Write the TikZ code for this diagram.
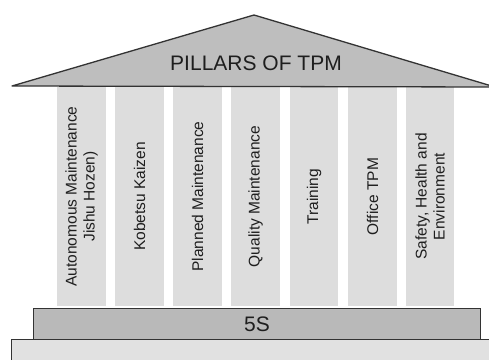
\documentclass[tikz,border=0pt]{standalone}
\usepackage{fontspec}
\setmainfont{Liberation Sans}
\definecolor{rooffill}{HTML}{BEBEBE}
\definecolor{fivesfill}{HTML}{B9B9B9}
\definecolor{basefill}{HTML}{E1E1E1}
\definecolor{pillarfill}{HTML}{DDDDDD}
\definecolor{edge}{HTML}{333333}
\definecolor{txt}{HTML}{1E1E1E}
\begin{document}
\begin{tikzpicture}[x=1pt,y=-1pt,
  pillar/.style={rectangle,fill=pillarfill,rotate=90,minimum width=219pt,minimum height=48.5pt,inner sep=0pt,
    align=center,text=txt,font=\fontsize{15.5}{18}\selectfont},
  band/.style={draw=edge,line width=1pt}]
\useasboundingbox (0,0) rectangle (489,359);
\begin{scope}
\clip (0,0) rectangle (489,359);
% base
\path[band,fill=basefill] (11,339) rectangle (500,370);
\node[band,fill=fivesfill,minimum width=447pt,minimum height=31pt,inner sep=0pt,anchor=north west,
  text=txt,font=\fontsize{21}{24}\selectfont] (fives) at (33,308) {5S};
% pillars
\node[pillar] (p1) at (81.5,196.5) {Autonomous Maintenance\\Jishu Hozen)};
\node[pillar] (p2) at (139.5,196.5) {Kobetsu Kaizen};
\node[pillar] (p3) at (197.5,196.5) {Planned Maintenance};
\node[pillar] (p4) at (255.5,196.5) {Quality Maintenance};
\node[pillar] (p5) at (314,196.5) {Training};
\node[pillar] (p6) at (372.5,196.5) {Office TPM};
\node[pillar] (p7) at (430,196.5) {Safety, Health and\\Environment};
% roof
\coordinate (rl) at (12,86);
\coordinate (ra) at (254,15);
\coordinate (rr) at (495,87);
\path[draw=edge,line width=1.3pt,line join=round,fill=rooffill] (rl) -- (ra) -- (rr) -- cycle;
\node[text=txt,font=\fontsize{21}{24}\selectfont] (title) at (256,63) {PILLARS OF TPM};
\end{scope}
\end{tikzpicture}
\end{document}
